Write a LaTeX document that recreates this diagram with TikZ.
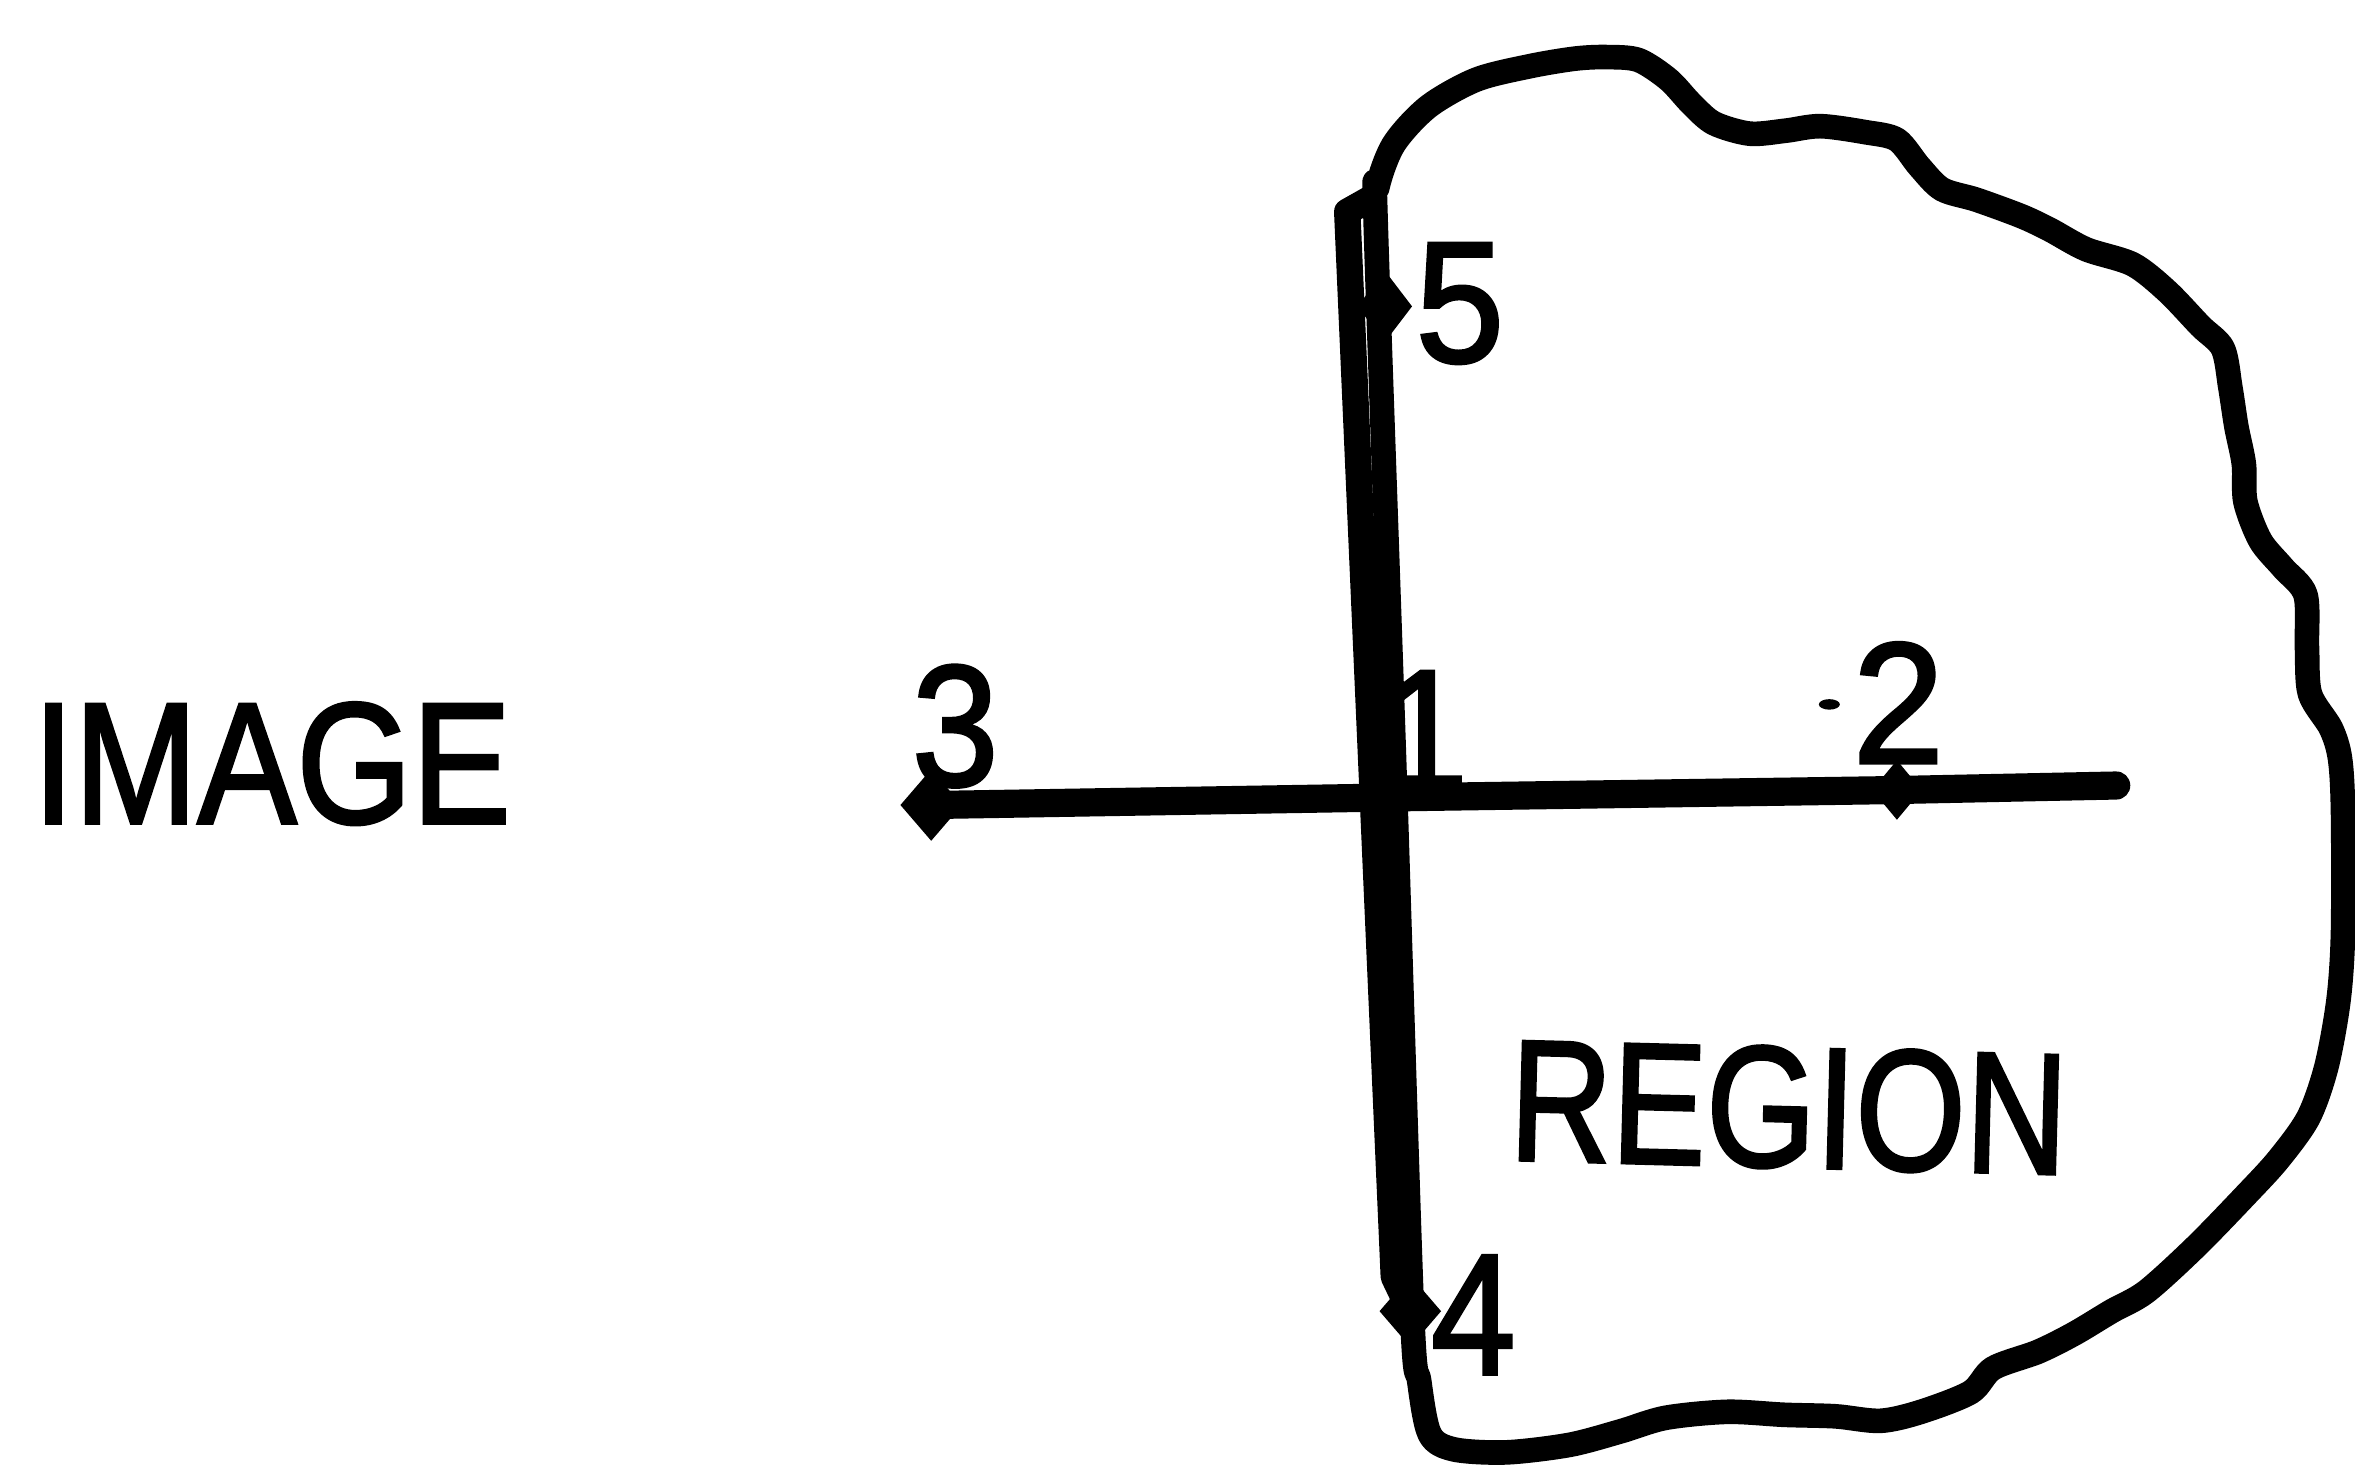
\documentclass[tikz,border=0pt]{standalone}
\usepackage{fontspec}
\usepackage{graphicx}
\setmainfont{Liberation Sans}
\newfontfamily\lblfont{Liberation Sans}[FakeBold=2]
\usetikzlibrary{shapes.geometric}
\begin{document}
\begin{tikzpicture}[x=0.015cm, y=-0.015cm,
  region/.style={line width=7pt, line join=round, line cap=round},
  hline/.style={line width=8pt, line cap=round, line join=round},
  bandline/.style={line width=7.5pt, line join=round, line cap=round},
  ptmark/.style={diamond, fill=black, draw=none, inner sep=0pt, minimum width=0.62cm, minimum height=0.72cm},
  lbl/.style={inner sep=0pt, anchor=base, font=\lblfont\fontsize{49pt}{55pt}\selectfont},
]
\fill[white] (0,0) rectangle (1568,981);
\useasboundingbox (0,0) rectangle (1568,981);

% region boundary
\draw[region] plot[smooth cycle, tension=0.5] coordinates {
 (928,500) (916,150) (917,125) (928,96) (951,71) (983,53) (1019,44) (1049,39)
 (1070,38) (1091,40) (1111,53) (1126,69) (1141,82) (1165,89) (1189,87) (1212,84)
 (1242,88) (1263,93) (1278,111) (1293,126) (1316,133) (1346,144) (1365,153)
 (1389,166) (1420,176) (1443,194) (1465,217) (1480,232) (1485,258) (1489,284)
 (1494,309) (1495,334) (1505,360) (1520,378) (1535,396) (1536,431) (1538,462)
 (1552,485) (1558,505) (1560,540) (1560,621) (1557,666) (1549,710) (1537,744)
 (1517,772) (1495,796) (1462,830) (1429,860) (1406,873) (1381,888) (1357,900)
 (1327,911) (1312,927) (1279,940) (1252,946) (1222,943) (1188,942) (1150,940)
 (1109,944) (1079,953) (1045,962) (1003,967) (968,965) (952,955) (945,920)
 (940,870)};

% points
\coordinate (p1) at (923,531);
\node[ptmark] (p3) at (620,536) {};
\node[ptmark, minimum width=0.5cm, minimum height=0.6cm] (p2) at (1263,526) {};
\coordinate (hend) at (1409,523);
\node[ptmark, minimum width=0.55cm] (p5) at (922,204) {};
\node[ptmark] (p4) at (939,873) {};

% horizontal line 3 - 1 - 2
\draw[hline] (p3.center) -- (p1) -- (p2.center) -- (hend);

% line 5 - 4 along the region edge
\coordinate (bhook) at (913,132);
\coordinate (btop) at (897,141);
\coordinate (bmid) at (928,850);
\draw[bandline] (bhook) -- (btop) -- (bmid) -- (p4.center);

% labels
\node[lbl] (limage) at (181,548) {\scalebox{0.86}[1]{IMAGE}};
\node[lbl, rotate=-1.5] (lregion) at (1190,777) {\scalebox{0.82}[1]{REGION}};
\node[lbl] (l3) at (636,523) {\scalebox{0.9}[1]{3}};
\node[lbl] (l1) at (948,526) {\scalebox{0.92}[1]{1}};
\node[lbl] (l2) at (1264,508) {\scalebox{0.95}[1]{2}};
\node[lbl] (l5) at (972,241) {\scalebox{0.92}[1]{5}};
\node[lbl] (l4) at (981,915) {\scalebox{0.88}[1]{4}};
\fill (1218,469) ellipse [x radius=7, y radius=3.5];
\end{tikzpicture}
\end{document}
